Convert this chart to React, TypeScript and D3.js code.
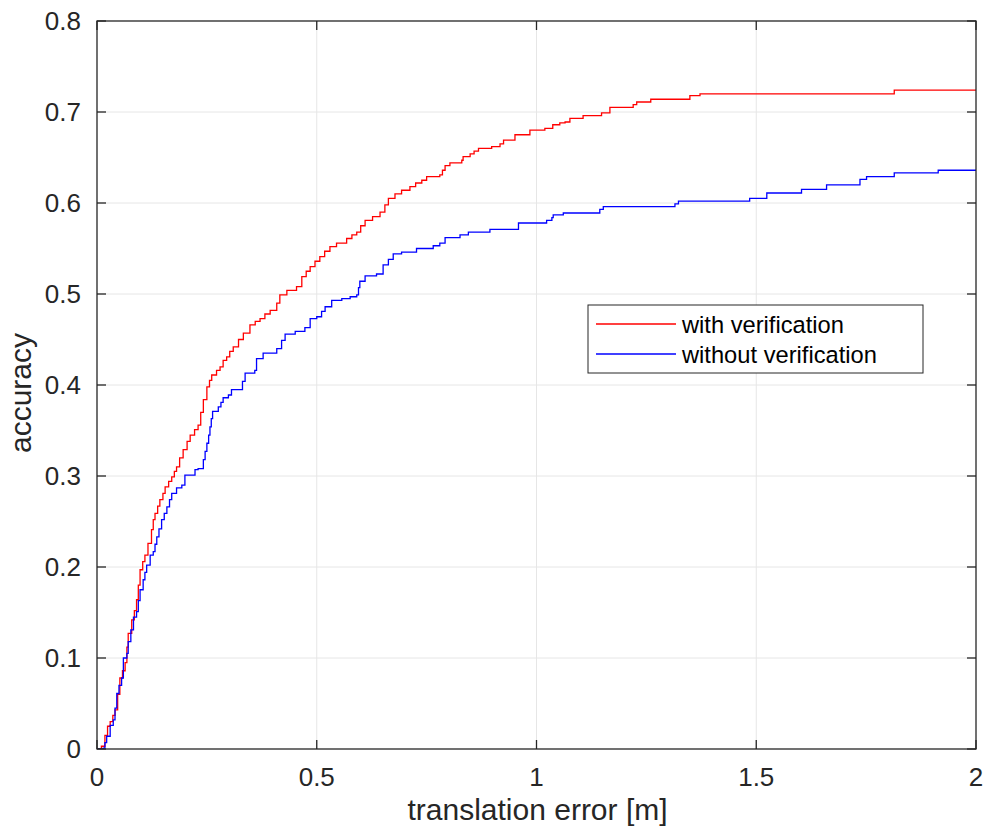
import React from "react";
import * as d3 from "d3";

const xTicks = [0, 0.5, 1, 1.5, 2];
const yTicks = [0, 0.1, 0.2, 0.3, 0.4, 0.5, 0.6, 0.7, 0.8];
const seriesNames = ["with verification", "without verification"];
const seriesColors = ["#ff0000", "#0000ff"];

const withVerification: [number, number][] = [
  [0.000,0.000],[0.010,0.003],[0.018,0.015],[0.024,0.025],[0.030,0.030],[0.036,0.037],[0.041,0.043],[0.047,0.060],[0.052,0.078],[0.058,0.086],[0.064,0.095],[0.068,0.112],[0.071,0.127],[0.079,0.142],[0.085,0.152],[0.090,0.164],[0.094,0.180],[0.098,0.197],[0.104,0.206],[0.109,0.213],[0.116,0.226],[0.124,0.241],[0.128,0.252],[0.132,0.259],[0.138,0.267],[0.143,0.274],[0.150,0.281],[0.155,0.288],[0.163,0.294],[0.170,0.299],[0.176,0.305],[0.181,0.310],[0.188,0.320],[0.196,0.329],[0.205,0.338],[0.212,0.345],[0.222,0.351],[0.230,0.356],[0.236,0.370],[0.242,0.384],[0.250,0.398],[0.256,0.405],[0.261,0.411],[0.272,0.416],[0.280,0.420],[0.287,0.427],[0.295,0.431],[0.302,0.437],[0.310,0.442],[0.322,0.450],[0.333,0.457],[0.348,0.466],[0.360,0.470],[0.371,0.473],[0.382,0.478],[0.394,0.482],[0.409,0.490],[0.416,0.499],[0.432,0.504],[0.454,0.508],[0.466,0.519],[0.476,0.525],[0.485,0.530],[0.496,0.536],[0.507,0.541],[0.518,0.547],[0.530,0.552],[0.545,0.556],[0.568,0.561],[0.580,0.565],[0.591,0.568],[0.600,0.575],[0.610,0.581],[0.627,0.585],[0.644,0.590],[0.655,0.598],[0.663,0.605],[0.678,0.610],[0.693,0.614],[0.712,0.618],[0.725,0.622],[0.739,0.625],[0.750,0.629],[0.780,0.631],[0.786,0.636],[0.792,0.641],[0.803,0.644],[0.830,0.647],[0.833,0.651],[0.849,0.654],[0.858,0.657],[0.868,0.660],[0.898,0.662],[0.917,0.665],[0.925,0.669],[0.951,0.675],[0.985,0.680],[1.019,0.682],[1.037,0.686],[1.053,0.688],[1.065,0.689],[1.076,0.693],[1.106,0.696],[1.148,0.699],[1.167,0.705],[1.220,0.708],[1.228,0.711],[1.260,0.714],[1.349,0.718],[1.372,0.720],[1.814,0.724],[2.0,0.724]
];

const withoutVerification: [number, number][] = [
  [0.000,0.000],[0.014,0.001],[0.018,0.007],[0.022,0.014],[0.030,0.026],[0.037,0.032],[0.041,0.045],[0.045,0.061],[0.050,0.070],[0.056,0.078],[0.060,0.100],[0.068,0.105],[0.071,0.118],[0.077,0.131],[0.083,0.145],[0.090,0.151],[0.094,0.163],[0.098,0.175],[0.105,0.186],[0.109,0.194],[0.113,0.202],[0.121,0.213],[0.128,0.217],[0.132,0.225],[0.136,0.233],[0.141,0.242],[0.147,0.252],[0.153,0.259],[0.159,0.266],[0.165,0.274],[0.170,0.281],[0.181,0.287],[0.193,0.290],[0.200,0.301],[0.215,0.301],[0.223,0.307],[0.230,0.308],[0.242,0.318],[0.246,0.327],[0.250,0.336],[0.254,0.345],[0.257,0.354],[0.260,0.363],[0.263,0.371],[0.276,0.376],[0.282,0.381],[0.287,0.386],[0.299,0.389],[0.306,0.395],[0.325,0.395],[0.331,0.404],[0.337,0.413],[0.359,0.416],[0.363,0.429],[0.378,0.435],[0.397,0.435],[0.409,0.440],[0.420,0.449],[0.428,0.456],[0.451,0.459],[0.473,0.463],[0.485,0.473],[0.500,0.475],[0.511,0.481],[0.519,0.486],[0.534,0.493],[0.557,0.495],[0.576,0.497],[0.591,0.499],[0.595,0.507],[0.598,0.514],[0.610,0.520],[0.636,0.522],[0.651,0.532],[0.663,0.538],[0.674,0.544],[0.693,0.546],[0.727,0.550],[0.765,0.553],[0.780,0.556],[0.792,0.562],[0.826,0.565],[0.845,0.568],[0.894,0.571],[0.959,0.578],[1.023,0.581],[1.035,0.584],[1.038,0.587],[1.061,0.589],[1.144,0.593],[1.152,0.596],[1.315,0.599],[1.323,0.602],[1.485,0.605],[1.524,0.611],[1.603,0.615],[1.660,0.620],[1.736,0.626],[1.751,0.629],[1.814,0.633],[1.914,0.636],[2.0,0.636]
];

const W = 985, H = 832;
const L = 97, R = 976, T = 21, B = 749;
const FONT = "'Liberation Sans', Arial, Helvetica, sans-serif";
const AX = "#262626";

export default function App() {
  const x = d3.scaleLinear().domain([0, 2]).range([L, R]);
  const y = d3.scaleLinear().domain([0, 0.8]).range([B, T]);
  const line = d3.line<[number, number]>()
    .x(d => x(d[0]))
    .y(d => y(d[1]))
    .curve(d3.curveStepAfter);
  const series = [withVerification, withoutVerification];
  const tl = 9;
  return (
    <svg width={W} height={H} style={{ position: "absolute", left: 0, top: 0, background: "#fff" }}
      fontFamily={FONT}>
      <rect x={0} y={0} width={W} height={H} fill="#fff" />
      {xTicks.slice(1, -1).map(t => (
        <line key={"gx" + t} x1={x(t)} x2={x(t)} y1={T} y2={B} stroke="#e6e6e6" strokeWidth={1} />
      ))}
      {yTicks.slice(1, -1).map(t => (
        <line key={"gy" + t} x1={L} x2={R} y1={y(t)} y2={y(t)} stroke="#e6e6e6" strokeWidth={1} />
      ))}
      <defs>
        <clipPath id="clip"><rect x={L} y={T} width={R - L} height={B - T} /></clipPath>
      </defs>
      <g clipPath="url(#clip)">
        {series.map((s, i) => (
          <path key={i} d={line(s) || ""} fill="none" stroke={seriesColors[i]} strokeWidth={1.3} />
        ))}
      </g>
      <rect x={L} y={T} width={R - L} height={B - T} fill="none" stroke={AX} strokeWidth={1.3} />
      {xTicks.map(t => (
        <g key={"tx" + t}>
          <line x1={x(t)} x2={x(t)} y1={B} y2={B - tl} stroke={AX} strokeWidth={1.3} />
          <line x1={x(t)} x2={x(t)} y1={T} y2={T + tl} stroke={AX} strokeWidth={1.3} />
          <text x={x(t)} y={786} textAnchor="middle" fontSize={26} fill={AX}>{String(t)}</text>
        </g>
      ))}
      {yTicks.map(t => (
        <g key={"ty" + t}>
          <line x1={L} x2={L + tl} y1={y(t)} y2={y(t)} stroke={AX} strokeWidth={1.3} />
          <line x1={R} x2={R - tl} y1={y(t)} y2={y(t)} stroke={AX} strokeWidth={1.3} />
          <text x={81} y={y(t) + 9} textAnchor="end" fontSize={26} fill={AX}>{String(t)}</text>
        </g>
      ))}
      <text x={(L + R) / 2 + 1} y={820} textAnchor="middle" fontSize={30} fill={AX}>translation error [m]</text>
      <text transform={`translate(31,${(T + B) / 2 + 8}) rotate(-90)`} textAnchor="middle" fontSize={30} fill={AX}>accuracy</text>
      <rect x={588} y={305} width={335} height={68} fill="#fff" stroke={AX} strokeWidth={1} />
      {seriesNames.map((n, i) => (
        <g key={n}>
          <line x1={596} x2={676} y1={324 + i * 30} y2={324 + i * 30} stroke={seriesColors[i]} strokeWidth={1.3} />
          <text x={682} y={332.5 + i * 30} fontSize={23.7} fill="#000">{n}</text>
        </g>
      ))}
    </svg>
  );
}
